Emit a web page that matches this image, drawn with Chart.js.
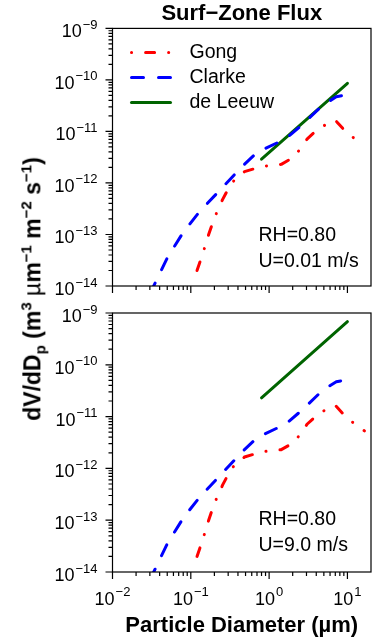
<!DOCTYPE html>
<html>
<head>
<meta charset="utf-8">
<script src="https://cdn.jsdelivr.net/npm/chart.js@4.4.1/dist/chart.umd.min.js"></script>
<style>
  body { margin: 0; background: #fff; width: 373px; height: 639px; position: relative; overflow: hidden; }
  #topChart { position: absolute; left: 0; top: 0; }
  #bottomChart { position: absolute; left: 0; top: 300px; }
  #ylab {
    position: absolute; left: 33px; top: 289px;
    transform: translate(-50%, -50%) rotate(-90deg);
    white-space: nowrap; font: bold 23px 'Liberation Sans', Arial, sans-serif; color: #000;
  }
  #ylab sup, #ylab sub { font-size: 15px; }
  #ylab .mu { font-weight: normal; }
</style>
</head>
<body>
<canvas id="topChart" width="373" height="300"></canvas>
<canvas id="bottomChart" width="373" height="339"></canvas>
<div id="ylab">dV/dD<sub>p</sub> (m<sup>3</sup> <span class="mu">&micro;</span>m<sup>&minus;1</sup> m<sup>&minus;2</sup> s<sup>&minus;1</sup>)</div>
<script>
// particle diameters (um) and volume flux
const gongD = [0.12, 0.142, 0.169, 0.2, 0.255, 0.33, 0.485, 0.82, 1.43, 2.1, 3.07, 4.37, 6.98, 9.9, 16.5];
const gongV = [2.0e-14, 4.2e-14, 1.0e-13, 2.1e-13, 4.8e-13, 1.0e-12, 1.66e-12, 2.1e-12, 2.3e-12, 3.2e-12, 7.2e-12, 1.17e-11, 1.66e-11, 9.3e-12, 5.3e-12];

const clarkeD = [0.03, 0.05, 0.08, 0.13, 0.22, 0.44, 0.7, 1.35, 1.7, 2.65, 4.8, 7.2, 11.5];
const clarkeV = [7e-15, 3.5e-14, 1.1e-13, 2.8e-13, 6.5e-13, 2.0e-12, 3.9e-12, 6.3e-12, 7.6e-12, 1.35e-11, 3.2e-11, 4.7e-11, 5.4e-11];

const leeuwD = [0.8, 10];
const leeuwTop = [2.9e-12, 8.6e-11];     // U = 0.01 m/s
const leeuwBottom = [2.3e-11, 6.8e-10];  // U = 9.0 m/s

const xTickExps = [-2, -1, 0, 1];
const yTickExps = [-14, -13, -12, -11, -10, -9];

const topNotes = ['RH=0.80', 'U=0.01 m/s'];
const bottomNotes = ['RH=0.80', 'U=9.0 m/s'];

const FONT = "'Liberation Sans', Arial, sans-serif";
Chart.defaults.font.family = FONT;
Chart.defaults.color = '#000';

function pts(xs, ys) {
  return xs.map((x, i) => ({x: x, y: ys[i]}));
}

function makeDatasets(leeuw) {
  return [
    {label: 'Gong', data: pts(gongD, gongV), borderColor: '#ff0000', borderWidth: 3,
     borderDash: [9, 14, 0.1, 14], legendDashOffset: 23},
    {label: 'Clarke', data: pts(clarkeD, clarkeV), borderColor: '#0000ff', borderWidth: 3,
     borderDash: [12, 15], legendDashOffset: 0},
    {label: 'de Leeuw', data: pts(leeuwD, leeuw), borderColor: '#006400', borderWidth: 3,
     borderDash: [], legendDashOffset: 0}
  ].map(d => Object.assign(d, {borderCapStyle: 'round', borderJoinStyle: 'round', pointRadius: 0, tension: 0, fill: false}));
}

function drawPower(ctx, e, x, baseY, supY, align) {
  const sup = e < 0 ? '\u2212' + (-e) : String(e);
  ctx.font = '18px ' + FONT;
  const wb = ctx.measureText('10').width;
  ctx.font = '13px ' + FONT;
  const ws = ctx.measureText(sup).width;
  const w = wb + 1 + ws;
  const x0 = align === 'right' ? x - w : x - w / 2;
  ctx.textAlign = 'left';
  ctx.textBaseline = 'alphabetic';
  ctx.font = '18px ' + FONT;
  ctx.fillText('10', x0, baseY);
  ctx.font = '13px ' + FONT;
  ctx.fillText(sup, x0 + wb + 1, supY);
}

// matplotlib-like frame, log ticks, legend and notes
const logFrame = {
  id: 'logFrame',
  afterDraw(chart, args, opts) {
    const {ctx, chartArea: a, scales: {x, y}} = chart;
    ctx.save();
    ctx.strokeStyle = '#000';
    ctx.fillStyle = '#000';
    ctx.lineWidth = 1.2;
    ctx.strokeRect(a.left, a.top, a.right - a.left, a.bottom - a.top);

    ctx.beginPath();
    yTickExps.forEach(e => {
      const py = y.getPixelForValue(Math.pow(10, e));
      ctx.moveTo(a.left, py); ctx.lineTo(a.left - 7, py);
      if (e < yTickExps[yTickExps.length - 1]) {
        for (let k = 2; k <= 9; k++) {
          const q = y.getPixelForValue(k * Math.pow(10, e));
          ctx.moveTo(a.left, q); ctx.lineTo(a.left - 4, q);
        }
      }
    });
    xTickExps.forEach(e => {
      const px = x.getPixelForValue(Math.pow(10, e));
      ctx.moveTo(px, a.bottom); ctx.lineTo(px, a.bottom + 7);
      for (let k = 2; k <= 9; k++) {
        const v = k * Math.pow(10, e);
        if (v >= x.max) break;
        const q = x.getPixelForValue(v);
        ctx.moveTo(q, a.bottom); ctx.lineTo(q, a.bottom + 4);
      }
    });
    ctx.stroke();

    yTickExps.forEach(e => {
      const py = y.getPixelForValue(Math.pow(10, e));
      drawPower(ctx, e, a.left - 15, py + 9, py + 0.5, 'right');
    });
    if (opts.xLabels) {
      xTickExps.forEach(e => {
        const px = x.getPixelForValue(Math.pow(10, e));
        drawPower(ctx, e, px, a.bottom + 33, a.bottom + 24, 'center');
      });
    }

    if (opts.legend) {
      ctx.font = '19.5px ' + FONT;
      ctx.textBaseline = 'middle';
      chart.data.datasets.forEach((d, i) => {
        const ly = a.top + 24 + i * 25;
        ctx.beginPath();
        ctx.strokeStyle = d.borderColor;
        ctx.lineWidth = d.borderWidth;
        ctx.lineCap = 'round';
        ctx.setLineDash(d.borderDash);
        ctx.lineDashOffset = d.legendDashOffset;
        ctx.moveTo(a.left + 19, ly);
        ctx.lineTo(a.left + 58, ly);
        ctx.stroke();
        ctx.setLineDash([]);
        ctx.fillStyle = '#000';
        ctx.fillText(d.label, a.left + 77, ly);
      });
    }

    ctx.font = '19.5px ' + FONT;
    ctx.textBaseline = 'middle';
    ctx.textAlign = 'left';
    ctx.fillStyle = '#000';
    opts.notes.forEach((t, i) => ctx.fillText(t, a.left + 146, a.top + 207 + i * 26));
    ctx.restore();
  }
};

function makeOptions(isTop) {
  return {
    responsive: false,
    animation: false,
    layout: {padding: {left: 0, right: 2, top: isTop ? 0 : 13, bottom: 0}},
    scales: {
      x: {
        type: 'logarithmic', min: 0.01, max: 20,
        grid: {display: false}, border: {display: false},
        ticks: {display: false},
        title: {display: !isTop, text: 'Particle Diameter (\u00b5m)', font: {size: 22, weight: 'bold'}, padding: 0},
        afterFit: s => { s.height = isTop ? 14 : 67; }
      },
      y: {
        type: 'logarithmic', min: 1e-14, max: 1e-9,
        grid: {display: false}, border: {display: false},
        ticks: {display: false},
        afterFit: s => { s.width = 112.5; }
      }
    },
    plugins: {
      legend: {display: false},
      tooltip: {enabled: false},
      title: {display: isTop, text: 'Surf\u2212Zone Flux', fullSize: false, font: {size: 22, weight: 'bold'}, padding: {top: 1, bottom: 1}},
      logFrame: {xLabels: !isTop, legend: isTop, notes: isTop ? topNotes : bottomNotes}
    }
  };
}

new Chart(document.getElementById('topChart'), {
  type: 'line',
  data: {datasets: makeDatasets(leeuwTop)},
  options: makeOptions(true),
  plugins: [logFrame]
});

new Chart(document.getElementById('bottomChart'), {
  type: 'line',
  data: {datasets: makeDatasets(leeuwBottom)},
  options: makeOptions(false),
  plugins: [logFrame]
});
</script>
</body>
</html>
